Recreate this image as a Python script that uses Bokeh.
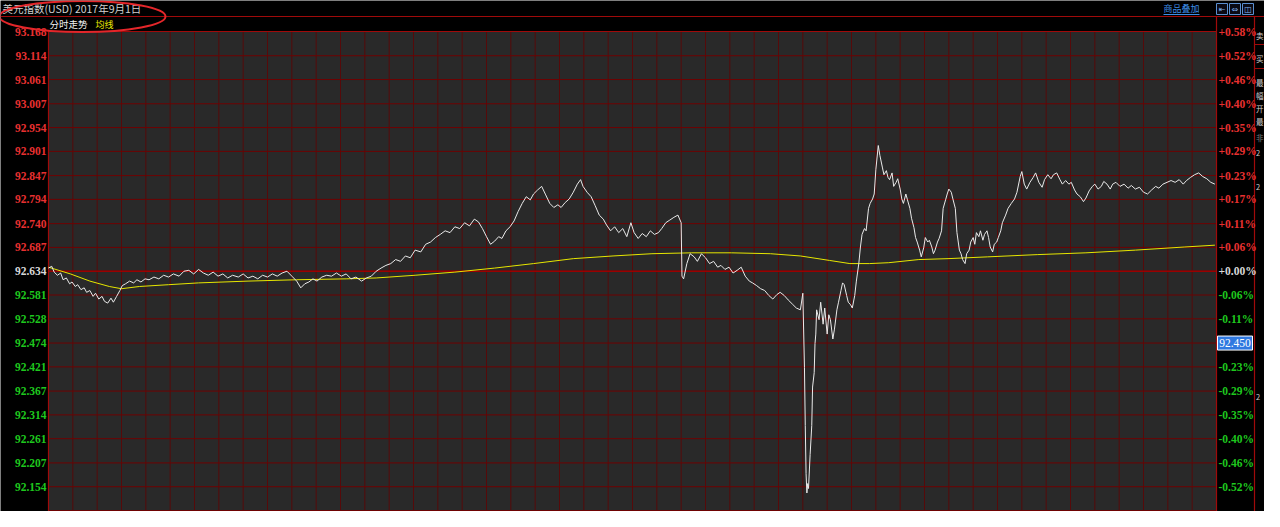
from bokeh.plotting import figure
from bokeh.models import Range1d
from bokeh.core.properties import value
from bokeh.embed import file_html
from bokeh.resources import INLINE

# ---------------- data ----------------
TITLE = "美元指数(USD) 2017年9月1日"
TAB_LABEL = "分时走势"
AVG_LABEL = "均线"
OVERLAY_LABEL = "商品叠加"
PREV_CLOSE = 92.634
CURSOR_PRICE = "92.450"
CURSOR_LEVEL = 92.474

price_ticks = [93.168, 93.114, 93.061, 93.007, 92.954, 92.901, 92.847, 92.794, 92.740, 92.687,
               92.634, 92.581, 92.528, 92.474, 92.421, 92.367, 92.314, 92.261, 92.207, 92.154]
price_tick_labels = ["93.168", "93.114", "93.061", "93.007", "92.954", "92.901", "92.847", "92.794",
                     "92.740", "92.687", "92.634", "92.581", "92.528", "92.474", "92.421", "92.367",
                     "92.314", "92.261", "92.207", "92.154"]
pct_tick_labels = ["+0.58%", "+0.52%", "+0.46%", "+0.40%", "+0.35%", "+0.29%", "+0.23%", "+0.17%",
                   "+0.11%", "+0.06%", "+0.00%", "-0.06%", "-0.11%", "-0.17%", "-0.23%", "-0.29%",
                   "-0.35%", "-0.40%", "-0.46%", "-0.52%"]
price_floor = 92.101

# minutes since session open
minute_t = [0, 4, 7, 11, 15, 18, 22, 26, 29, 33, 36, 40, 44, 47, 51, 55, 58, 62, 66, 69, 73, 77, 80, 84, 88,
            91, 95, 100, 105, 109, 114, 119, 124, 130, 136, 142, 148, 154, 161, 167, 173, 179, 185, 191,
            197, 203, 209, 215, 221, 227, 234, 240, 246, 252, 258, 264, 270, 276, 282, 288, 294, 300, 306,
            311, 316, 321, 326, 331, 337, 343, 349, 355, 361, 367, 373, 379, 386, 392, 398, 404, 410, 416,
            422, 428, 434, 440, 446, 452, 459, 465, 471, 477, 483, 489, 495, 501, 507, 513, 519, 525, 530,
            535, 540, 545, 550, 555, 559, 564, 569, 574, 579, 584, 589, 594, 598, 603, 608, 613, 618, 623,
            628, 632, 637, 642, 647, 652, 656, 659, 664, 669, 674, 679, 684, 688, 693, 698, 703, 708, 713,
            718, 722, 727, 732, 737, 742, 747, 752, 756, 761, 766, 771, 776, 780, 781, 783, 787, 791, 796,
            800, 805, 810, 815, 820, 825, 829, 834, 839, 844, 849, 854, 859, 864, 868, 873, 878, 883, 888,
            893, 898, 902, 907, 912, 917, 922, 927, 930, 932, 933, 934, 935, 936, 937, 939, 940, 941, 942,
            944, 945, 946, 947, 950, 952, 955, 957, 960, 962, 964, 967, 969, 972, 974, 977, 979, 981, 984,
            986, 989, 991, 994, 996, 999, 1001, 1003, 1006, 1008, 1011, 1013, 1016, 1018, 1020, 1023, 1025,
            1028, 1030, 1033, 1035, 1037, 1040, 1042, 1045, 1047, 1050, 1052, 1054, 1057, 1059, 1062, 1064,
            1067, 1069, 1071, 1074, 1076, 1079, 1081, 1084, 1086, 1089, 1091, 1093, 1096, 1098, 1101, 1103,
            1106, 1108, 1110, 1113, 1115, 1118, 1120, 1123, 1125, 1127, 1130, 1132, 1135, 1137, 1140, 1142,
            1144, 1147, 1149, 1152, 1154, 1157, 1159, 1161, 1164, 1166, 1169, 1171, 1174, 1176, 1180, 1183,
            1187, 1191, 1194, 1198, 1200, 1203, 1206, 1210, 1214, 1217, 1221, 1225, 1228, 1232, 1236, 1239,
            1243, 1247, 1250, 1254, 1258, 1261, 1265, 1268, 1272, 1276, 1279, 1283, 1287, 1290, 1294, 1298,
            1301, 1305, 1309, 1312, 1316, 1321, 1326, 1331, 1335, 1340, 1345, 1350, 1355, 1360, 1365, 1369,
            1374, 1379, 1384, 1389, 1394, 1399, 1403, 1408, 1413, 1418, 1423, 1428, 1433, 1438]
price = [92.641, 92.645, 92.632, 92.625, 92.630, 92.615, 92.619, 92.606, 92.610, 92.600, 92.604, 92.593,
         92.597, 92.587, 92.591, 92.578, 92.585, 92.572, 92.578, 92.567, 92.563, 92.574, 92.565, 92.578,
         92.591, 92.602, 92.606, 92.612, 92.608, 92.615, 92.610, 92.617, 92.615, 92.621, 92.617, 92.625,
         92.621, 92.628, 92.623, 92.634, 92.636, 92.628, 92.638, 92.630, 92.625, 92.632, 92.623, 92.628,
         92.619, 92.625, 92.621, 92.628, 92.619, 92.623, 92.617, 92.625, 92.621, 92.628, 92.623, 92.630,
         92.634, 92.623, 92.612, 92.597, 92.606, 92.610, 92.617, 92.612, 92.621, 92.625, 92.623, 92.630,
         92.623, 92.628, 92.617, 92.621, 92.612, 92.619, 92.623, 92.634, 92.641, 92.647, 92.651, 92.660,
         92.656, 92.668, 92.664, 92.681, 92.677, 92.694, 92.699, 92.709, 92.716, 92.724, 92.720, 92.733,
         92.729, 92.742, 92.735, 92.750, 92.744, 92.729, 92.711, 92.694, 92.701, 92.711, 92.707, 92.724,
         92.733, 92.746, 92.767, 92.785, 92.800, 92.793, 92.806, 92.815, 92.823, 92.804, 92.785, 92.776,
         92.782, 92.776, 92.787, 92.795, 92.810, 92.828, 92.838, 92.823, 92.810, 92.800, 92.780, 92.759,
         92.750, 92.737, 92.724, 92.733, 92.720, 92.729, 92.711, 92.742, 92.720, 92.707, 92.718, 92.711,
         92.724, 92.716, 92.720, 92.729, 92.742, 92.748, 92.754, 92.759, 92.742, 92.623, 92.617, 92.651,
         92.673, 92.666, 92.656, 92.673, 92.664, 92.651, 92.656, 92.643, 92.647, 92.638, 92.643, 92.630,
         92.636, 92.643, 92.623, 92.612, 92.608, 92.602, 92.595, 92.591, 92.580, 92.572, 92.582, 92.587,
         92.580, 92.570, 92.561, 92.552, 92.548, 92.585, 92.419, 92.290, 92.183, 92.140, 92.161, 92.150,
         92.226, 92.258, 92.290, 92.376, 92.408, 92.473, 92.494, 92.548, 92.526, 92.565, 92.516, 92.552,
         92.494, 92.537, 92.526, 92.483, 92.505, 92.548, 92.565, 92.591, 92.608, 92.604, 92.580, 92.565,
         92.559, 92.552, 92.580, 92.612, 92.651, 92.688, 92.716, 92.729, 92.724, 92.774, 92.785, 92.795,
         92.806, 92.860, 92.914, 92.892, 92.866, 92.849, 92.858, 92.843, 92.838, 92.853, 92.823, 92.832,
         92.840, 92.817, 92.795, 92.785, 92.806, 92.793, 92.774, 92.752, 92.731, 92.709, 92.699, 92.681,
         92.666, 92.686, 92.709, 92.699, 92.703, 92.688, 92.673, 92.681, 92.699, 92.707, 92.724, 92.774,
         92.793, 92.806, 92.817, 92.810, 92.795, 92.774, 92.720, 92.681, 92.673, 92.660, 92.651, 92.673,
         92.681, 92.699, 92.709, 92.694, 92.720, 92.711, 92.724, 92.703, 92.716, 92.724, 92.709, 92.688,
         92.677, 92.694, 92.699, 92.709, 92.724, 92.742, 92.759, 92.774, 92.785, 92.795, 92.810, 92.845,
         92.856, 92.828, 92.817, 92.832, 92.843, 92.853, 92.832, 92.821, 92.838, 92.849, 92.840, 92.849,
         92.853, 92.838, 92.828, 92.836, 92.828, 92.832, 92.815, 92.806, 92.800, 92.789, 92.797, 92.813,
         92.823, 92.828, 92.817, 92.823, 92.834, 92.828, 92.817, 92.828, 92.832, 92.823, 92.828, 92.819,
         92.825, 92.817, 92.821, 92.810, 92.806, 92.815, 92.823, 92.819, 92.828, 92.832, 92.836, 92.832,
         92.838, 92.828, 92.836, 92.843, 92.849, 92.853, 92.845, 92.840, 92.832, 92.828]

avg_t = [0, 27, 51, 75, 90, 112, 148, 185, 246, 306, 367, 404, 452, 501, 550, 598, 647, 696, 744, 793,
         842, 890, 927, 963, 988, 1012, 1036, 1073, 1109, 1158, 1219, 1279, 1340, 1401, 1438]
avg_price = [92.643, 92.628, 92.612, 92.600, 92.595, 92.600, 92.604, 92.608, 92.612, 92.615, 92.617,
             92.619, 92.625, 92.632, 92.641, 92.651, 92.662, 92.668, 92.673, 92.675, 92.675, 92.673,
             92.668, 92.658, 92.651, 92.651, 92.653, 92.660, 92.662, 92.666, 92.671, 92.675, 92.681,
             92.688, 92.692]

SESSION_MIN = 1440
grid_minutes = list(range(0, SESSION_MIN + 1, 30))
side_panel_chars = ["卖", "买", "最", "幅", "开", "最", "非", "2", "2", "2"]
side_panel_rows = [35, 58, 82, 95, 108, 121, 137, 152, 186, 396]

# ---------------- layout (pixels) ----------------
W, H = 1264, 511
L, R = 48, 1216
T, B = 31, 510
YTOP, YBOT = price_ticks[0], price_floor
kx = (R - L) / SESSION_MIN
ky = (B - T) / (YTOP - YBOT)


def px(xp):
    return (xp - L) / kx


def py(yp):
    return YTOP - (yp - T) / ky


p = figure(width=W, height=H, output_backend="svg", toolbar_location=None,
           x_range=Range1d(px(0), px(W)), y_range=Range1d(py(H), py(0)),
           x_axis_type=None, y_axis_type=None, min_border=0,
           background_fill_color="black", border_fill_color="black", outline_line_color=None)

CJK = value("Noto Sans CJK SC")
NUM = value("Liberation Sans Narrow")

# plot background
p.quad(left=0, right=SESSION_MIN, bottom=py(H), top=YTOP, fill_color="#292929", line_color=None)

# grid
p.segment(x0=grid_minutes, x1=grid_minutes, y0=py(H), y1=YTOP, line_color="#560a0a", line_width=1)
hgrid = price_ticks + [price_floor]
p.segment(x0=[0] * len(hgrid), x1=[SESSION_MIN] * len(hgrid), y0=hgrid, y1=hgrid,
          line_color="#6e0202", line_width=1)
p.segment(x0=[0], x1=[SESSION_MIN], y0=[PREV_CLOSE], y1=[PREV_CLOSE], line_color="#9a0000", line_width=1.5)

# frame borders
p.segment(x0=[0, SESSION_MIN, px(1254)], x1=[0, SESSION_MIN, px(1254)],
          y0=[py(H)] * 3, y1=[YTOP, py(16), py(16)], line_color="#a00a0a", line_width=1.2)
p.segment(x0=[0, px(0)], x1=[SESSION_MIN, px(W)], y0=[YTOP, py(16)], y1=[YTOP, py(16)],
          line_color="#a00a0a", line_width=1.2)
p.segment(x0=[px(1254)] * 2, x1=[px(W)] * 2, y0=[py(44), py(68)], y1=[py(44), py(68)],
          line_color="#a00a0a", line_width=1)

# series
p.line(avg_t, avg_price, line_color="#e6e600", line_width=1)
p.line(minute_t, price, line_color="#eaeaea", line_width=1)

# tick labels
left_colors = ["#e83030" if v > PREV_CLOSE + 1e-9 else ("#d8d8d8" if abs(v - PREV_CLOSE) < 1e-9 else "#1ec81e")
               for v in price_ticks]
p.text(x=[px(46)] * len(price_ticks), y=price_ticks, text=price_tick_labels, text_align="right",
       text_baseline="middle", text_color=left_colors, text_font=NUM, text_font_size="11.5px",
       text_font_style="bold")
p.text(x=[px(1218)] * len(price_ticks), y=price_ticks, text=pct_tick_labels, text_align="left",
       text_baseline="middle", text_color=left_colors, text_font=NUM, text_font_size="11.5px",
       text_font_style="bold")

# cursor price box
p.quad(left=[px(1217)], right=[px(1252)], bottom=[CURSOR_LEVEL - 7 / ky], top=[CURSOR_LEVEL + 7 / ky],
       fill_color="#2f78e0", line_color="#ffffff", line_width=1)
p.text(x=[px(1234.5)], y=[CURSOR_LEVEL], text=[CURSOR_PRICE], text_align="center", text_baseline="middle",
       text_color="#ffffff", text_font=NUM, text_font_size="11.5px")

# header
p.text(x=[px(2)], y=[py(8)], text=[TITLE], text_baseline="middle", text_color="#d2d2d2",
       text_font=CJK, text_font_size="10.5px")
p.text(x=[px(49)], y=[py(23.5)], text=[TAB_LABEL], text_baseline="middle", text_color="#f2f2f2",
       text_font=CJK, text_font_size="9.5px")
p.text(x=[px(95)], y=[py(23.5)], text=[AVG_LABEL], text_baseline="middle", text_color="#e8e800",
       text_font=CJK, text_font_size="9px")
p.text(x=[px(1163)], y=[py(8)], text=[OVERLAY_LABEL], text_baseline="middle", text_color="#3d8ee6",
       text_font=CJK, text_font_size="9px")
p.segment(x0=[px(1163)], x1=[px(1199)], y0=[py(14)], y1=[py(14)], line_color="#3d8ee6", line_width=1)

# window icons
icon_l = [1216, 1229, 1242]
p.quad(left=[px(v) for v in icon_l], right=[px(v + 11) for v in icon_l],
       bottom=[py(14)] * 3, top=[py(3)] * 3, fill_color="#0a0a14", line_color="#5b8fd0", line_width=1)
p.text(x=[px(v + 5.5) for v in icon_l], y=[py(8.5)] * 3, text=["⇤", "⇔", "◫"], text_align="center",
       text_baseline="middle", text_color="#7fb0f0", text_font=value("DejaVu Sans"), text_font_size="8px")

# side panel (narrow strip at the window edge)
p.text(x=[px(1255.5)] * len(side_panel_chars), y=[py(v) for v in side_panel_rows], text=side_panel_chars,
       text_baseline="middle", text_color=["#d0d0d0"] * 6 + ["#7a7a7a"] + ["#d0d0d0"] * 3,
       text_font=CJK, text_font_size="7.5px")

# hand-drawn red ellipse annotation
p.ellipse(x=[px(82)], y=[py(16)], width=[166 / kx], height=[31 / ky], fill_color=None,
          line_color="#e4262a", line_width=2)

open("out.html", "w").write(file_html(p, INLINE))
